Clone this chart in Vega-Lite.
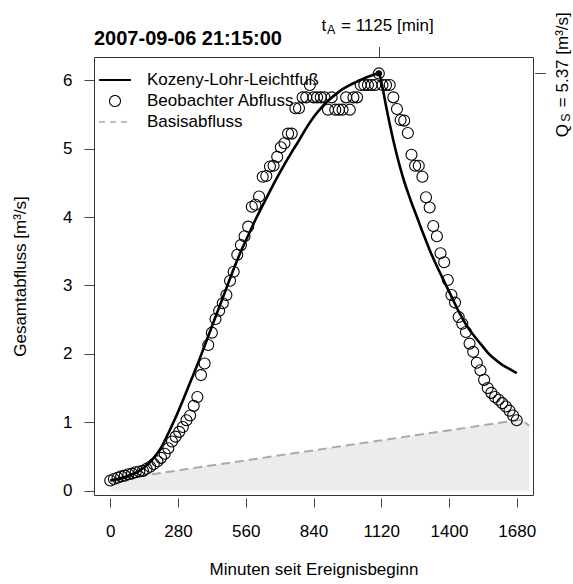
{
  "$schema": "https://vega.github.io/schema/vega-lite/v6.json",
  "width": 439,
  "height": 438,
  "autosize": {"type": "none"},
  "padding": {"left": 94, "top": 57, "right": 40, "bottom": 89},
  "background": "white",
  "config": {
    "font": "Liberation Sans",
    "view": {"stroke": "#333", "strokeWidth": 1},
    "axis": {"grid": false, "domain": false, "labelFont": "Liberation Sans", "labelFontSize": 17, "labelColor": "#000", "titleFont": "Liberation Sans", "titleFontSize": 17, "titleFontWeight": "normal", "titleColor": "#000", "tickColor": "#444", "tickWidth": 1, "tickSize": 10, "labelFlush": false, "labelOverlap": false}
  },
  "title": {"text": "2007-09-06 21:15:00", "anchor": "start", "frame": "group", "fontSize": 20, "fontWeight": "bold", "font": "Liberation Sans", "color": "#000", "offset": -53, "baseline": "alphabetic"},
  "datasets": {
    "obs": [
      {"t":0,"q":0.15},{"t":15,"q":0.17},{"t":30,"q":0.19},{"t":45,"q":0.21},{"t":60,"q":0.22},{"t":75,"q":0.24},{"t":90,"q":0.25},{"t":105,"q":0.27},{"t":120,"q":0.28},{"t":135,"q":0.29},
      {"t":150,"q":0.32},{"t":165,"q":0.35},{"t":180,"q":0.39},{"t":195,"q":0.43},{"t":210,"q":0.48},{"t":225,"q":0.54},{"t":240,"q":0.62},{"t":255,"q":0.72},{"t":270,"q":0.79},{"t":285,"q":0.86},
      {"t":300,"q":0.93},{"t":315,"q":1.03},{"t":330,"q":1.10},{"t":345,"q":1.24},{"t":360,"q":1.37},{"t":375,"q":1.69},{"t":390,"q":1.86},{"t":405,"q":2.13},{"t":420,"q":2.31},{"t":435,"q":2.51},
      {"t":450,"q":2.63},{"t":465,"q":2.74},{"t":480,"q":2.86},{"t":495,"q":3.07},{"t":510,"q":3.20},{"t":525,"q":3.45},{"t":540,"q":3.59},{"t":555,"q":3.72},{"t":570,"q":3.86},{"t":585,"q":4.15},
      {"t":600,"q":4.18},{"t":615,"q":4.30},{"t":630,"q":4.59},{"t":645,"q":4.60},{"t":660,"q":4.74},{"t":675,"q":4.75},{"t":690,"q":4.88},{"t":705,"q":5.02},{"t":720,"q":5.08},{"t":735,"q":5.22},
      {"t":750,"q":5.22},{"t":765,"q":5.59},{"t":780,"q":5.59},{"t":795,"q":5.75},{"t":810,"q":5.75},{"t":825,"q":5.93},{"t":840,"q":5.75},{"t":855,"q":5.75},{"t":870,"q":5.75},{"t":885,"q":5.75},
      {"t":900,"q":5.57},{"t":915,"q":5.75},{"t":930,"q":5.57},{"t":945,"q":5.57},{"t":960,"q":5.57},{"t":975,"q":5.75},{"t":990,"q":5.57},{"t":1005,"q":5.75},{"t":1020,"q":5.75},{"t":1035,"q":5.93},
      {"t":1050,"q":5.93},{"t":1065,"q":5.93},{"t":1080,"q":5.93},{"t":1095,"q":5.93},{"t":1110,"q":6.10},{"t":1125,"q":5.93},{"t":1140,"q":5.93},{"t":1155,"q":5.93},{"t":1170,"q":5.75},{"t":1185,"q":5.58},
      {"t":1200,"q":5.42},{"t":1215,"q":5.41},{"t":1230,"q":5.23},{"t":1245,"q":4.91},{"t":1260,"q":4.75},{"t":1275,"q":4.75},{"t":1290,"q":4.59},{"t":1305,"q":4.29},{"t":1320,"q":4.14},{"t":1335,"q":3.87},
      {"t":1350,"q":3.72},{"t":1365,"q":3.47},{"t":1380,"q":3.34},{"t":1395,"q":3.08},{"t":1410,"q":2.86},{"t":1425,"q":2.75},{"t":1440,"q":2.54},{"t":1455,"q":2.44},{"t":1470,"q":2.32},{"t":1485,"q":2.15},
      {"t":1500,"q":2.03},{"t":1515,"q":1.87},{"t":1530,"q":1.76},{"t":1545,"q":1.62},{"t":1560,"q":1.50},{"t":1575,"q":1.43},{"t":1590,"q":1.37},{"t":1605,"q":1.33},{"t":1620,"q":1.28},{"t":1635,"q":1.23},
      {"t":1650,"q":1.17},{"t":1665,"q":1.10},{"t":1680,"q":1.03}
    ],
    "model": [
      {"t":0,"q":0.15},{"t":30,"q":0.17},{"t":60,"q":0.20},{"t":90,"q":0.24},{"t":120,"q":0.29},{"t":150,"q":0.37},{"t":180,"q":0.48},{"t":210,"q":0.63},{"t":240,"q":0.84},{"t":270,"q":1.07},
      {"t":300,"q":1.32},{"t":330,"q":1.58},{"t":360,"q":1.84},{"t":390,"q":2.12},{"t":420,"q":2.40},{"t":450,"q":2.68},{"t":480,"q":2.96},{"t":510,"q":3.24},{"t":540,"q":3.50},{"t":570,"q":3.73},
      {"t":600,"q":3.96},{"t":630,"q":4.17},{"t":660,"q":4.38},{"t":690,"q":4.58},{"t":720,"q":4.77},{"t":750,"q":4.95},{"t":780,"q":5.12},{"t":810,"q":5.30},{"t":840,"q":5.46},{"t":870,"q":5.59},
      {"t":900,"q":5.70},{"t":930,"q":5.79},{"t":960,"q":5.87},{"t":990,"q":5.93},{"t":1020,"q":5.98},{"t":1050,"q":6.03},{"t":1080,"q":6.07},{"t":1110,"q":6.10},{"t":1125,"q":5.90},{"t":1140,"q":5.62},
      {"t":1155,"q":5.36},{"t":1170,"q":5.12},{"t":1185,"q":4.90},{"t":1200,"q":4.70},{"t":1215,"q":4.52},{"t":1230,"q":4.36},{"t":1245,"q":4.21},{"t":1260,"q":4.07},{"t":1275,"q":3.93},{"t":1290,"q":3.79},
      {"t":1320,"q":3.52},{"t":1350,"q":3.28},{"t":1380,"q":3.06},{"t":1410,"q":2.84},{"t":1440,"q":2.62},{"t":1470,"q":2.43},{"t":1500,"q":2.28},{"t":1530,"q":2.15},{"t":1560,"q":2.02},{"t":1590,"q":1.92},
      {"t":1620,"q":1.84},{"t":1650,"q":1.78},{"t":1680,"q":1.72}
    ],
    "base": [{"t":0,"q":0.15},{"t":1700,"q":1.04},{"t":1732,"q":0.95}],
    "peak": [{"t":1110,"q":6.10}]
  },
  "layer": [
    {
      "encoding": {
        "x": {"field": "t", "type": "quantitative", "scale": {"domain": [-67.2, 1747.2], "nice": false, "zero": false},
              "axis": {"orient": "bottom", "values": [0, 280, 560, 840, 1120, 1400, 1680], "format": "d", "title": "Minuten seit Ereignisbeginn", "offset": 3, "tickSize": 9, "labelPadding": 16, "titlePadding": 22}},
        "y": {"field": "q", "type": "quantitative", "scale": {"domain": [-0.063, 6.34], "nice": false, "zero": false},
              "axis": {"orient": "left", "values": [0, 1, 2, 3, 4, 5, 6], "format": "d", "title": "Gesamtabfluss  [m³/s]", "tickSize": 10, "labelPadding": 12, "titlePadding": 33}}
      },
      "layer": [
        {"data": {"name": "base"}, "mark": {"type": "area", "color": "#ececec", "clip": true}, "encoding": {"y2": {"datum": 0}}},
        {"data": {"name": "base"}, "mark": {"type": "line", "strokeDash": [9, 5], "strokeWidth": 2, "clip": true},
         "encoding": {"color": {"datum": "Basisabfluss", "type": "nominal",
           "scale": {"domain": ["Kozeny-Lohr-Leichtfuß", "Beobachter Abfluss", "Basisabfluss"], "range": ["#000000", "#000000", "#aaaaaa"]},
           "legend": {"title": null, "orient": "none", "legendX": 12.5, "legendY": 14.5, "padding": 0, "symbolSize": 121, "labelFontSize": 17, "labelFont": "Liberation Sans", "labelColor": "#000", "labelOffset": 23.5, "labelLimit": 400, "rowPadding": 3,
             "encode": {"symbols": {"update": {
               "shape": {"signal": "datum.value === 'Beobachter Abfluss' ? 'circle' : 'M-2.9,0H2.9'"},
               "strokeDash": {"signal": "datum.value === 'Basisabfluss' ? [6,5] : [1,0]"},
               "strokeWidth": {"signal": "datum.value === 'Basisabfluss' ? 1.6 : (datum.value === 'Beobachter Abfluss' ? 1.1 : 2.2)"},
               "fill": {"value": "transparent"},
               "opacity": {"value": 1}}}}}}}},
        {"data": {"name": "model"}, "mark": {"type": "line", "strokeWidth": 2.6, "interpolate": "monotone", "clip": true},
         "encoding": {"color": {"datum": "Kozeny-Lohr-Leichtfuß", "type": "nominal"}}},
        {"data": {"name": "obs"}, "mark": {"type": "point", "filled": false, "size": 121, "strokeWidth": 1.1, "opacity": 1},
         "encoding": {"color": {"datum": "Beobachter Abfluss", "type": "nominal"}}}
      ]
    },
    {
      "data": {"name": "peak"},
      "mark": {"type": "point", "filled": true, "size": 40, "color": "#000", "opacity": 1},
      "encoding": {
        "x": {"field": "t", "type": "quantitative", "scale": {"domain": [-67.2, 1747.2], "nice": false, "zero": false},
              "axis": {"orient": "top", "values": [1110, 1110.001, 1110.002], "title": null, "offset": 0, "tickSize": 10.5, "labelBound": false, "labelBaseline": "alphabetic",
                "labelExpr": "datum.value < 1110.0005 ? 't' : (datum.value < 1110.0015 ? 'A' : '= 1125 [min]')",
                "labelAlign": {"condition": {"test": "datum.value < 1110.0005", "value": "right"}, "value": "left"},
                "labelOffset": {"condition": [{"test": "datum.value < 1110.0005", "value": -53}, {"test": "datum.value < 1110.0015", "value": -52.3}], "value": -38.3},
                "labelPadding": {"condition": {"test": "datum.value > 1110.0005 && datum.value < 1110.0015", "value": 13.5}, "value": 16.5},
                "labelFontSize": {"condition": {"test": "datum.value > 1110.0005 && datum.value < 1110.0015", "value": 12.5}, "value": 17}}},
        "y": {"field": "q", "type": "quantitative", "scale": {"domain": [-0.063, 6.34], "nice": false, "zero": false},
              "axis": {"orient": "right", "values": [6.1, 6.101, 6.102], "title": null, "offset": 2, "tickSize": 10, "labelBound": false, "labelAngle": -90, "labelAlign": "left", "labelBaseline": "alphabetic",
                "labelExpr": "datum.value < 6.1005 ? 'Q' : (datum.value < 6.1015 ? 'S' : '= 5.37 [m³/s]')",
                "labelOffset": {"condition": [{"test": "datum.value < 6.1005", "value": 63.4}, {"test": "datum.value < 6.1015", "value": 48}], "value": 33.4},
                "labelPadding": {"condition": {"test": "datum.value > 6.1005 && datum.value < 6.1015", "value": 24.5}, "value": 22},
                "labelFontSize": {"condition": {"test": "datum.value > 6.1005 && datum.value < 6.1015", "value": 12.5}, "value": 17}}}
      }
    }
  ],
  "resolve": {"scale": {"x": "independent", "y": "independent"}}
}
